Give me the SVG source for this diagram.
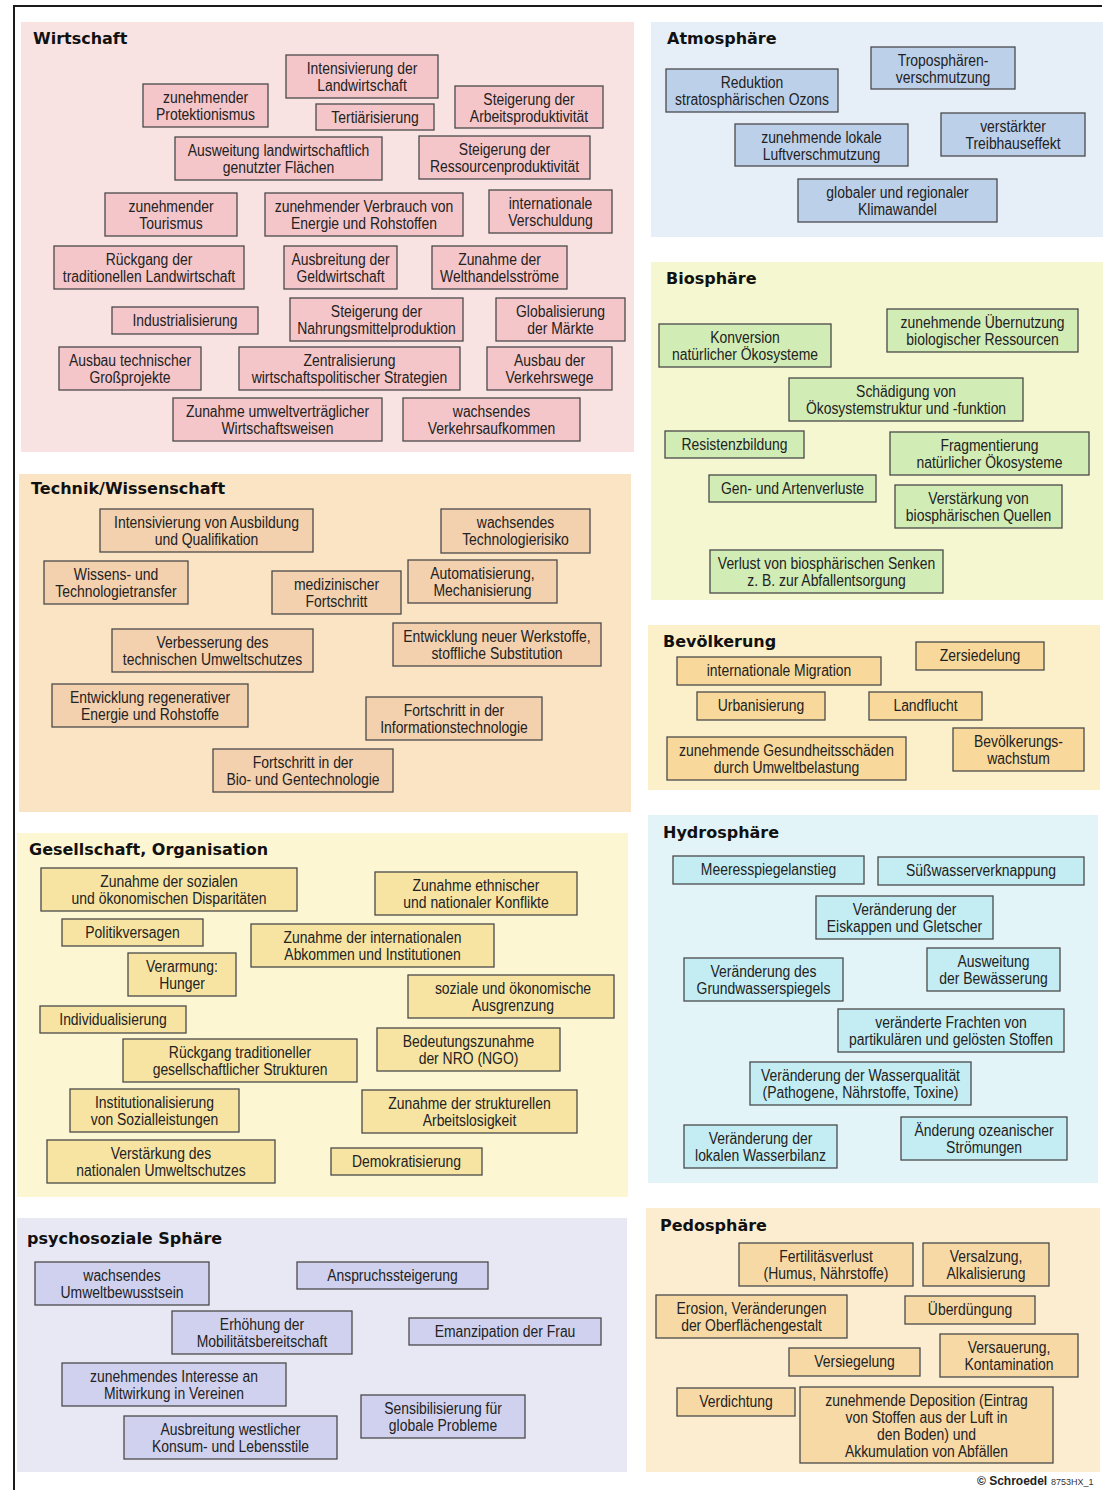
<svg xmlns="http://www.w3.org/2000/svg" width="1106" height="1490" viewBox="0 0 1106 1490">
<style>
.bg{fill:#ffffff}
.frame{stroke:#1a1a1a;stroke-width:2;fill:none}
.ttl{font-family:"DejaVu Sans","Liberation Sans",sans-serif;font-weight:bold;font-size:16px;fill:#111}
.t{font-family:"Liberation Sans","Arial",sans-serif;font-size:16px;fill:#222;text-anchor:middle}
rect.b{stroke:#4a4a4a;stroke-width:1.3}
.p-wirt{fill:#f8e3e2}.b-wirt{fill:#f5c6c9}
.p-atmo{fill:#e6eef8}.b-atmo{fill:#bcd0ea}
.p-bio{fill:#f4f7d0}.b-bio{fill:#d2ecb6}
.p-bev{fill:#fcf0cb}.b-bev{fill:#f8d99b}
.p-hyd{fill:#e3f4f8}.b-hyd{fill:#c3edf3}
.p-ped{fill:#fcedd0}.b-ped{fill:#f7d9a6}
.p-tec{fill:#fbe4c4}.b-tec{fill:#f3d0ae}
.p-ges{fill:#fdf6d3}.b-ges{fill:#f7e4a2}
.p-psy{fill:#e8e8f5}.b-psy{fill:#d0d1ee}
.copy{font-family:"Liberation Sans","Arial",sans-serif;font-weight:bold;font-size:12px;fill:#222}
.code{font-family:"Liberation Sans","Arial",sans-serif;font-size:9px;fill:#333}
</style>
<rect class="bg" x="0" y="0" width="1106" height="1490"/>
<path class="frame" d="M14,1490 V6 H1102"/>

<g id="panels">
<rect class="p-wirt" x="21" y="22" width="613" height="430"/>
<rect class="p-atmo" x="651" y="22" width="452" height="215"/>
<rect class="p-bio" x="651" y="262" width="452" height="338"/>
<rect class="p-bev" x="648" y="625" width="452" height="165"/>
<rect class="p-hyd" x="648" y="815" width="450" height="368"/>
<rect class="p-ped" x="646" y="1208" width="454" height="264"/>
<rect class="p-tec" x="19" y="474" width="612" height="338"/>
<rect class="p-ges" x="17" y="833" width="611" height="364"/>
<rect class="p-psy" x="17" y="1218" width="610" height="254"/>
<text class="ttl" x="33" y="44">Wirtschaft</text>
<text class="ttl" x="667" y="44">Atmosphäre</text>
<text class="ttl" x="666" y="284">Biosphäre</text>
<text class="ttl" x="663" y="647">Bevölkerung</text>
<text class="ttl" x="663" y="838">Hydrosphäre</text>
<text class="ttl" x="660" y="1231">Pedosphäre</text>
<text class="ttl" x="31" y="494">Technik/Wissenschaft</text>
<text class="ttl" x="29" y="855">Gesellschaft, Organisation</text>
<text class="ttl" x="27" y="1244">psychosoziale Sphäre</text>
</g>

<!-- Wirtschaft -->
<g id="w1"><rect class="b b-wirt" x="286" y="55" width="152" height="43"/><text class="t" transform="matrix(.87 0 0 1 362 0)" x="0" y="74">Intensivierung der<tspan x="0" dy="17">Landwirtschaft</tspan></text></g>
<g id="w2"><rect class="b b-wirt" x="143" y="84" width="125" height="43"/><text class="t" transform="matrix(.87 0 0 1 205.5 0)" x="0" y="103">zunehmender<tspan x="0" dy="17">Protektionismus</tspan></text></g>
<g id="w3"><rect class="b b-wirt" x="316" y="104" width="118" height="26"/><text class="t" transform="matrix(.87 0 0 1 375 0)" x="0" y="123">Tertiärisierung</text></g>
<g id="w4"><rect class="b b-wirt" x="455" y="86" width="148" height="42"/><text class="t" transform="matrix(.87 0 0 1 529 0)" x="0" y="105">Steigerung der<tspan x="0" dy="17">Arbeitsproduktivität</tspan></text></g>
<g id="w5"><rect class="b b-wirt" x="175" y="137" width="207" height="43"/><text class="t" transform="matrix(.87 0 0 1 278.5 0)" x="0" y="156">Ausweitung landwirtschaftlich<tspan x="0" dy="17">genutzter Flächen</tspan></text></g>
<g id="w6"><rect class="b b-wirt" x="419" y="136" width="171" height="43"/><text class="t" transform="matrix(.87 0 0 1 504.5 0)" x="0" y="155">Steigerung der<tspan x="0" dy="17">Ressourcenproduktivität</tspan></text></g>
<g id="w7"><rect class="b b-wirt" x="105" y="193" width="132" height="43"/><text class="t" transform="matrix(.87 0 0 1 171 0)" x="0" y="212">zunehmender<tspan x="0" dy="17">Tourismus</tspan></text></g>
<g id="w8"><rect class="b b-wirt" x="265" y="193" width="198" height="43"/><text class="t" transform="matrix(.87 0 0 1 364 0)" x="0" y="212">zunehmender Verbrauch von<tspan x="0" dy="17">Energie und Rohstoffen</tspan></text></g>
<g id="w9"><rect class="b b-wirt" x="489" y="190" width="123" height="43"/><text class="t" transform="matrix(.87 0 0 1 550.5 0)" x="0" y="209">internationale<tspan x="0" dy="17">Verschuldung</tspan></text></g>
<g id="w10"><rect class="b b-wirt" x="54" y="246" width="190" height="43"/><text class="t" transform="matrix(.87 0 0 1 149 0)" x="0" y="265">Rückgang der<tspan x="0" dy="17">traditionellen Landwirtschaft</tspan></text></g>
<g id="w11"><rect class="b b-wirt" x="284" y="246" width="113" height="43"/><text class="t" transform="matrix(.87 0 0 1 340.5 0)" x="0" y="265">Ausbreitung der<tspan x="0" dy="17">Geldwirtschaft</tspan></text></g>
<g id="w12"><rect class="b b-wirt" x="432" y="246" width="135" height="43"/><text class="t" transform="matrix(.87 0 0 1 499.5 0)" x="0" y="265">Zunahme der<tspan x="0" dy="17">Welthandelsströme</tspan></text></g>
<g id="w13"><rect class="b b-wirt" x="112" y="307" width="146" height="27"/><text class="t" transform="matrix(.87 0 0 1 185 0)" x="0" y="326">Industrialisierung</text></g>
<g id="w14"><rect class="b b-wirt" x="290" y="298" width="173" height="43"/><text class="t" transform="matrix(.87 0 0 1 376.5 0)" x="0" y="317">Steigerung der<tspan x="0" dy="17">Nahrungsmittelproduktion</tspan></text></g>
<g id="w15"><rect class="b b-wirt" x="496" y="298" width="129" height="43"/><text class="t" transform="matrix(.87 0 0 1 560.5 0)" x="0" y="317">Globalisierung<tspan x="0" dy="17">der Märkte</tspan></text></g>
<g id="w16"><rect class="b b-wirt" x="59" y="347" width="142" height="43"/><text class="t" transform="matrix(.87 0 0 1 130 0)" x="0" y="366">Ausbau technischer<tspan x="0" dy="17">Großprojekte</tspan></text></g>
<g id="w17"><rect class="b b-wirt" x="239" y="347" width="221" height="43"/><text class="t" transform="matrix(.87 0 0 1 349.5 0)" x="0" y="366">Zentralisierung<tspan x="0" dy="17">wirtschaftspolitischer Strategien</tspan></text></g>
<g id="w18"><rect class="b b-wirt" x="487" y="347" width="125" height="43"/><text class="t" transform="matrix(.87 0 0 1 549.5 0)" x="0" y="366">Ausbau der<tspan x="0" dy="17">Verkehrswege</tspan></text></g>
<g id="w19"><rect class="b b-wirt" x="173" y="398" width="209" height="43"/><text class="t" transform="matrix(.87 0 0 1 277.5 0)" x="0" y="417">Zunahme umweltverträglicher<tspan x="0" dy="17">Wirtschaftsweisen</tspan></text></g>
<g id="w20"><rect class="b b-wirt" x="403" y="398" width="177" height="43"/><text class="t" transform="matrix(.87 0 0 1 491.5 0)" x="0" y="417">wachsendes<tspan x="0" dy="17">Verkehrsaufkommen</tspan></text></g>

<!-- Atmosphäre -->
<g id="a1"><rect class="b b-atmo" x="666" y="69" width="172" height="43"/><text class="t" transform="matrix(.87 0 0 1 752 0)" x="0" y="88">Reduktion<tspan x="0" dy="17">stratosphärischen Ozons</tspan></text></g>
<g id="a2"><rect class="b b-atmo" x="871" y="47" width="144" height="42"/><text class="t" transform="matrix(.87 0 0 1 943 0)" x="0" y="66">Troposphären-<tspan x="0" dy="17">verschmutzung</tspan></text></g>
<g id="a3"><rect class="b b-atmo" x="735" y="124" width="173" height="42"/><text class="t" transform="matrix(.87 0 0 1 821.5 0)" x="0" y="143">zunehmende lokale<tspan x="0" dy="17">Luftverschmutzung</tspan></text></g>
<g id="a4"><rect class="b b-atmo" x="941" y="113" width="144" height="43"/><text class="t" transform="matrix(.87 0 0 1 1013 0)" x="0" y="132">verstärkter<tspan x="0" dy="17">Treibhauseffekt</tspan></text></g>
<g id="a5"><rect class="b b-atmo" x="798" y="179" width="199" height="43"/><text class="t" transform="matrix(.87 0 0 1 897.5 0)" x="0" y="198">globaler und regionaler<tspan x="0" dy="17">Klimawandel</tspan></text></g>

<!-- Biosphäre -->
<g id="b1"><rect class="b b-bio" x="659" y="324" width="172" height="43"/><text class="t" transform="matrix(.87 0 0 1 745 0)" x="0" y="343">Konversion<tspan x="0" dy="17">natürlicher Ökosysteme</tspan></text></g>
<g id="b2"><rect class="b b-bio" x="887" y="309" width="191" height="43"/><text class="t" transform="matrix(.87 0 0 1 982.5 0)" x="0" y="328">zunehmende Übernutzung<tspan x="0" dy="17">biologischer Ressourcen</tspan></text></g>
<g id="b3"><rect class="b b-bio" x="789" y="378" width="234" height="43"/><text class="t" transform="matrix(.87 0 0 1 906 0)" x="0" y="397">Schädigung von<tspan x="0" dy="17">Ökosystemstruktur und -funktion</tspan></text></g>
<g id="b4"><rect class="b b-bio" x="665" y="431" width="139" height="27"/><text class="t" transform="matrix(.87 0 0 1 734.5 0)" x="0" y="450">Resistenzbildung</text></g>
<g id="b5"><rect class="b b-bio" x="890" y="432" width="199" height="43"/><text class="t" transform="matrix(.87 0 0 1 989.5 0)" x="0" y="451">Fragmentierung<tspan x="0" dy="17">natürlicher Ökosysteme</tspan></text></g>
<g id="b6"><rect class="b b-bio" x="709" y="475" width="167" height="27"/><text class="t" transform="matrix(.87 0 0 1 792.5 0)" x="0" y="494">Gen- und Artenverluste</text></g>
<g id="b7"><rect class="b b-bio" x="895" y="485" width="167" height="43"/><text class="t" transform="matrix(.87 0 0 1 978.5 0)" x="0" y="504">Verstärkung von<tspan x="0" dy="17">biosphärischen Quellen</tspan></text></g>
<g id="b8"><rect class="b b-bio" x="710" y="550" width="233" height="43"/><text class="t" transform="matrix(.87 0 0 1 826.5 0)" x="0" y="569">Verlust von biosphärischen Senken<tspan x="0" dy="17">z. B. zur Abfallentsorgung</tspan></text></g>

<!-- Bevölkerung -->
<g id="v1"><rect class="b b-bev" x="677" y="657" width="204" height="28"/><text class="t" transform="matrix(.87 0 0 1 779 0)" x="0" y="676">internationale Migration</text></g>
<g id="v2"><rect class="b b-bev" x="916" y="642" width="128" height="28"/><text class="t" transform="matrix(.87 0 0 1 980 0)" x="0" y="661">Zersiedelung</text></g>
<g id="v3"><rect class="b b-bev" x="697" y="692" width="128" height="28"/><text class="t" transform="matrix(.87 0 0 1 761 0)" x="0" y="711">Urbanisierung</text></g>
<g id="v4"><rect class="b b-bev" x="869" y="692" width="113" height="28"/><text class="t" transform="matrix(.87 0 0 1 925.5 0)" x="0" y="711">Landflucht</text></g>
<g id="v5"><rect class="b b-bev" x="667" y="737" width="239" height="43"/><text class="t" transform="matrix(.87 0 0 1 786.5 0)" x="0" y="756">zunehmende Gesundheitsschäden<tspan x="0" dy="17">durch Umweltbelastung</tspan></text></g>
<g id="v6"><rect class="b b-bev" x="953" y="728" width="131" height="43"/><text class="t" transform="matrix(.87 0 0 1 1018.5 0)" x="0" y="747">Bevölkerungs-<tspan x="0" dy="17">wachstum</tspan></text></g>

<!-- Hydrosphäre -->
<g id="h1"><rect class="b b-hyd" x="673" y="856" width="191" height="28"/><text class="t" transform="matrix(.87 0 0 1 768.5 0)" x="0" y="875">Meeresspiegelanstieg</text></g>
<g id="h2"><rect class="b b-hyd" x="878" y="857" width="206" height="28"/><text class="t" transform="matrix(.87 0 0 1 981 0)" x="0" y="876">Süßwasserverknappung</text></g>
<g id="h3"><rect class="b b-hyd" x="816" y="896" width="177" height="43"/><text class="t" transform="matrix(.87 0 0 1 904.5 0)" x="0" y="915">Veränderung der<tspan x="0" dy="17">Eiskappen und Gletscher</tspan></text></g>
<g id="h4"><rect class="b b-hyd" x="684" y="958" width="159" height="43"/><text class="t" transform="matrix(.87 0 0 1 763.5 0)" x="0" y="977">Veränderung des<tspan x="0" dy="17">Grundwasserspiegels</tspan></text></g>
<g id="h5"><rect class="b b-hyd" x="927" y="948" width="133" height="43"/><text class="t" transform="matrix(.87 0 0 1 993.5 0)" x="0" y="967">Ausweitung<tspan x="0" dy="17">der Bewässerung</tspan></text></g>
<g id="h6"><rect class="b b-hyd" x="838" y="1009" width="226" height="43"/><text class="t" transform="matrix(.87 0 0 1 951 0)" x="0" y="1028">veränderte Frachten von<tspan x="0" dy="17">partikulären und gelösten Stoffen</tspan></text></g>
<g id="h7"><rect class="b b-hyd" x="750" y="1062" width="221" height="43"/><text class="t" transform="matrix(.87 0 0 1 860.5 0)" x="0" y="1081">Veränderung der Wasserqualität<tspan x="0" dy="17">(Pathogene, Nährstoffe, Toxine)</tspan></text></g>
<g id="h8"><rect class="b b-hyd" x="684" y="1125" width="153" height="43"/><text class="t" transform="matrix(.87 0 0 1 760.5 0)" x="0" y="1144">Veränderung der<tspan x="0" dy="17">lokalen Wasserbilanz</tspan></text></g>
<g id="h9"><rect class="b b-hyd" x="901" y="1117" width="166" height="43"/><text class="t" transform="matrix(.87 0 0 1 984 0)" x="0" y="1136">Änderung ozeanischer<tspan x="0" dy="17">Strömungen</tspan></text></g>

<!-- Pedosphäre -->
<g id="p1"><rect class="b b-ped" x="739" y="1243" width="174" height="43"/><text class="t" transform="matrix(.87 0 0 1 826 0)" x="0" y="1262">Fertilitäsverlust<tspan x="0" dy="17">(Humus, Nährstoffe)</tspan></text></g>
<g id="p2"><rect class="b b-ped" x="923" y="1243" width="126" height="43"/><text class="t" transform="matrix(.87 0 0 1 986 0)" x="0" y="1262">Versalzung,<tspan x="0" dy="17">Alkalisierung</tspan></text></g>
<g id="p3"><rect class="b b-ped" x="656" y="1295" width="191" height="43"/><text class="t" transform="matrix(.87 0 0 1 751.5 0)" x="0" y="1314">Erosion, Veränderungen<tspan x="0" dy="17">der Oberflächengestalt</tspan></text></g>
<g id="p4"><rect class="b b-ped" x="905" y="1296" width="130" height="28"/><text class="t" transform="matrix(.87 0 0 1 970 0)" x="0" y="1315">Überdüngung</text></g>
<g id="p5"><rect class="b b-ped" x="789" y="1348" width="131" height="28"/><text class="t" transform="matrix(.87 0 0 1 854.5 0)" x="0" y="1367">Versiegelung</text></g>
<g id="p6"><rect class="b b-ped" x="940" y="1334" width="138" height="43"/><text class="t" transform="matrix(.87 0 0 1 1009 0)" x="0" y="1353">Versauerung,<tspan x="0" dy="17">Kontamination</tspan></text></g>
<g id="p7"><rect class="b b-ped" x="677" y="1388" width="118" height="28"/><text class="t" transform="matrix(.87 0 0 1 736 0)" x="0" y="1407">Verdichtung</text></g>
<g id="p8"><rect class="b b-ped" x="800" y="1387" width="253" height="76"/><text class="t" transform="matrix(.87 0 0 1 926.5 0)" x="0" y="1406">zunehmende Deposition (Eintrag<tspan x="0" dy="17">von Stoffen aus der Luft in</tspan><tspan x="0" dy="17">den Boden) und</tspan><tspan x="0" dy="17">Akkumulation von Abfällen</tspan></text></g>

<!-- Technik/Wissenschaft -->
<g id="t1"><rect class="b b-tec" x="100" y="509" width="213" height="43"/><text class="t" transform="matrix(.87 0 0 1 206.5 0)" x="0" y="528">Intensivierung von Ausbildung<tspan x="0" dy="17">und Qualifikation</tspan></text></g>
<g id="t2"><rect class="b b-tec" x="441" y="509" width="149" height="44"/><text class="t" transform="matrix(.87 0 0 1 515.5 0)" x="0" y="528">wachsendes<tspan x="0" dy="17">Technologierisiko</tspan></text></g>
<g id="t3"><rect class="b b-tec" x="44" y="561" width="144" height="43"/><text class="t" transform="matrix(.87 0 0 1 116 0)" x="0" y="580">Wissens- und<tspan x="0" dy="17">Technologietransfer</tspan></text></g>
<g id="t4"><rect class="b b-tec" x="272" y="571" width="129" height="43"/><text class="t" transform="matrix(.87 0 0 1 336.5 0)" x="0" y="590">medizinischer<tspan x="0" dy="17">Fortschritt</tspan></text></g>
<g id="t5"><rect class="b b-tec" x="408" y="560" width="149" height="43"/><text class="t" transform="matrix(.87 0 0 1 482.5 0)" x="0" y="579">Automatisierung,<tspan x="0" dy="17">Mechanisierung</tspan></text></g>
<g id="t6"><rect class="b b-tec" x="112" y="629" width="201" height="43"/><text class="t" transform="matrix(.87 0 0 1 212.5 0)" x="0" y="648">Verbesserung des<tspan x="0" dy="17">technischen Umweltschutzes</tspan></text></g>
<g id="t7"><rect class="b b-tec" x="393" y="623" width="208" height="43"/><text class="t" transform="matrix(.87 0 0 1 497 0)" x="0" y="642">Entwicklung neuer Werkstoffe,<tspan x="0" dy="17">stoffliche Substitution</tspan></text></g>
<g id="t8"><rect class="b b-tec" x="52" y="684" width="196" height="43"/><text class="t" transform="matrix(.87 0 0 1 150 0)" x="0" y="703">Entwicklung regenerativer<tspan x="0" dy="17">Energie und Rohstoffe</tspan></text></g>
<g id="t9"><rect class="b b-tec" x="366" y="697" width="176" height="43"/><text class="t" transform="matrix(.87 0 0 1 454 0)" x="0" y="716">Fortschritt in der<tspan x="0" dy="17">Informationstechnologie</tspan></text></g>
<g id="t10"><rect class="b b-tec" x="213" y="749" width="180" height="43"/><text class="t" transform="matrix(.87 0 0 1 303 0)" x="0" y="768">Fortschritt in der<tspan x="0" dy="17">Bio- und Gentechnologie</tspan></text></g>

<!-- Gesellschaft, Organisation -->
<g id="g1"><rect class="b b-ges" x="41" y="868" width="256" height="43"/><text class="t" transform="matrix(.87 0 0 1 169 0)" x="0" y="887">Zunahme der sozialen<tspan x="0" dy="17">und ökonomischen Disparitäten</tspan></text></g>
<g id="g2"><rect class="b b-ges" x="375" y="872" width="202" height="43"/><text class="t" transform="matrix(.87 0 0 1 476 0)" x="0" y="891">Zunahme ethnischer<tspan x="0" dy="17">und nationaler Konflikte</tspan></text></g>
<g id="g3"><rect class="b b-ges" x="62" y="919" width="141" height="27"/><text class="t" transform="matrix(.87 0 0 1 132.5 0)" x="0" y="938">Politikversagen</text></g>
<g id="g4"><rect class="b b-ges" x="251" y="924" width="243" height="43"/><text class="t" transform="matrix(.87 0 0 1 372.5 0)" x="0" y="943">Zunahme der internationalen<tspan x="0" dy="17">Abkommen und Institutionen</tspan></text></g>
<g id="g5"><rect class="b b-ges" x="128" y="953" width="108" height="43"/><text class="t" transform="matrix(.87 0 0 1 182 0)" x="0" y="972">Verarmung:<tspan x="0" dy="17">Hunger</tspan></text></g>
<g id="g6"><rect class="b b-ges" x="408" y="975" width="206" height="43"/><text class="t" transform="matrix(.87 0 0 1 513 0)" x="0" y="994">soziale und ökonomische<tspan x="0" dy="17">Ausgrenzung</tspan></text></g>
<g id="g7"><rect class="b b-ges" x="40" y="1006" width="146" height="27"/><text class="t" transform="matrix(.87 0 0 1 113 0)" x="0" y="1025">Individualisierung</text></g>
<g id="g8"><rect class="b b-ges" x="123" y="1039" width="234" height="43"/><text class="t" transform="matrix(.87 0 0 1 240 0)" x="0" y="1058">Rückgang traditioneller<tspan x="0" dy="17">gesellschaftlicher Strukturen</tspan></text></g>
<g id="g9"><rect class="b b-ges" x="377" y="1028" width="183" height="43"/><text class="t" transform="matrix(.87 0 0 1 468.5 0)" x="0" y="1047">Bedeutungszunahme<tspan x="0" dy="17">der NRO (NGO)</tspan></text></g>
<g id="g10"><rect class="b b-ges" x="70" y="1089" width="169" height="43"/><text class="t" transform="matrix(.87 0 0 1 154.5 0)" x="0" y="1108">Institutionalisierung<tspan x="0" dy="17">von Sozialleistungen</tspan></text></g>
<g id="g11"><rect class="b b-ges" x="362" y="1090" width="215" height="43"/><text class="t" transform="matrix(.87 0 0 1 469.5 0)" x="0" y="1109">Zunahme der strukturellen<tspan x="0" dy="17">Arbeitslosigkeit</tspan></text></g>
<g id="g12"><rect class="b b-ges" x="47" y="1140" width="228" height="43"/><text class="t" transform="matrix(.87 0 0 1 161 0)" x="0" y="1159">Verstärkung des<tspan x="0" dy="17">nationalen Umweltschutzes</tspan></text></g>
<g id="g13"><rect class="b b-ges" x="331" y="1148" width="151" height="27"/><text class="t" transform="matrix(.87 0 0 1 406.5 0)" x="0" y="1167">Demokratisierung</text></g>

<!-- psychosoziale Sphäre -->
<g id="s1"><rect class="b b-psy" x="35" y="1262" width="174" height="43"/><text class="t" transform="matrix(.87 0 0 1 122 0)" x="0" y="1281">wachsendes<tspan x="0" dy="17">Umweltbewusstsein</tspan></text></g>
<g id="s2"><rect class="b b-psy" x="297" y="1262" width="191" height="27"/><text class="t" transform="matrix(.87 0 0 1 392.5 0)" x="0" y="1281">Anspruchssteigerung</text></g>
<g id="s3"><rect class="b b-psy" x="172" y="1311" width="180" height="43"/><text class="t" transform="matrix(.87 0 0 1 262 0)" x="0" y="1330">Erhöhung der<tspan x="0" dy="17">Mobilitätsbereitschaft</tspan></text></g>
<g id="s4"><rect class="b b-psy" x="409" y="1318" width="192" height="27"/><text class="t" transform="matrix(.87 0 0 1 505 0)" x="0" y="1337">Emanzipation der Frau</text></g>
<g id="s5"><rect class="b b-psy" x="62" y="1363" width="224" height="43"/><text class="t" transform="matrix(.87 0 0 1 174 0)" x="0" y="1382">zunehmendes Interesse an<tspan x="0" dy="17">Mitwirkung in Vereinen</tspan></text></g>
<g id="s6"><rect class="b b-psy" x="361" y="1395" width="164" height="43"/><text class="t" transform="matrix(.87 0 0 1 443 0)" x="0" y="1414">Sensibilisierung für<tspan x="0" dy="17">globale Probleme</tspan></text></g>
<g id="s7"><rect class="b b-psy" x="124" y="1416" width="213" height="43"/><text class="t" transform="matrix(.87 0 0 1 230.5 0)" x="0" y="1435">Ausbreitung westlicher<tspan x="0" dy="17">Konsum- und Lebensstile</tspan></text></g>

<text class="copy" x="977" y="1485">© Schroedel</text>
<text class="code" x="1051" y="1485">8753HX_1</text>
</svg>
